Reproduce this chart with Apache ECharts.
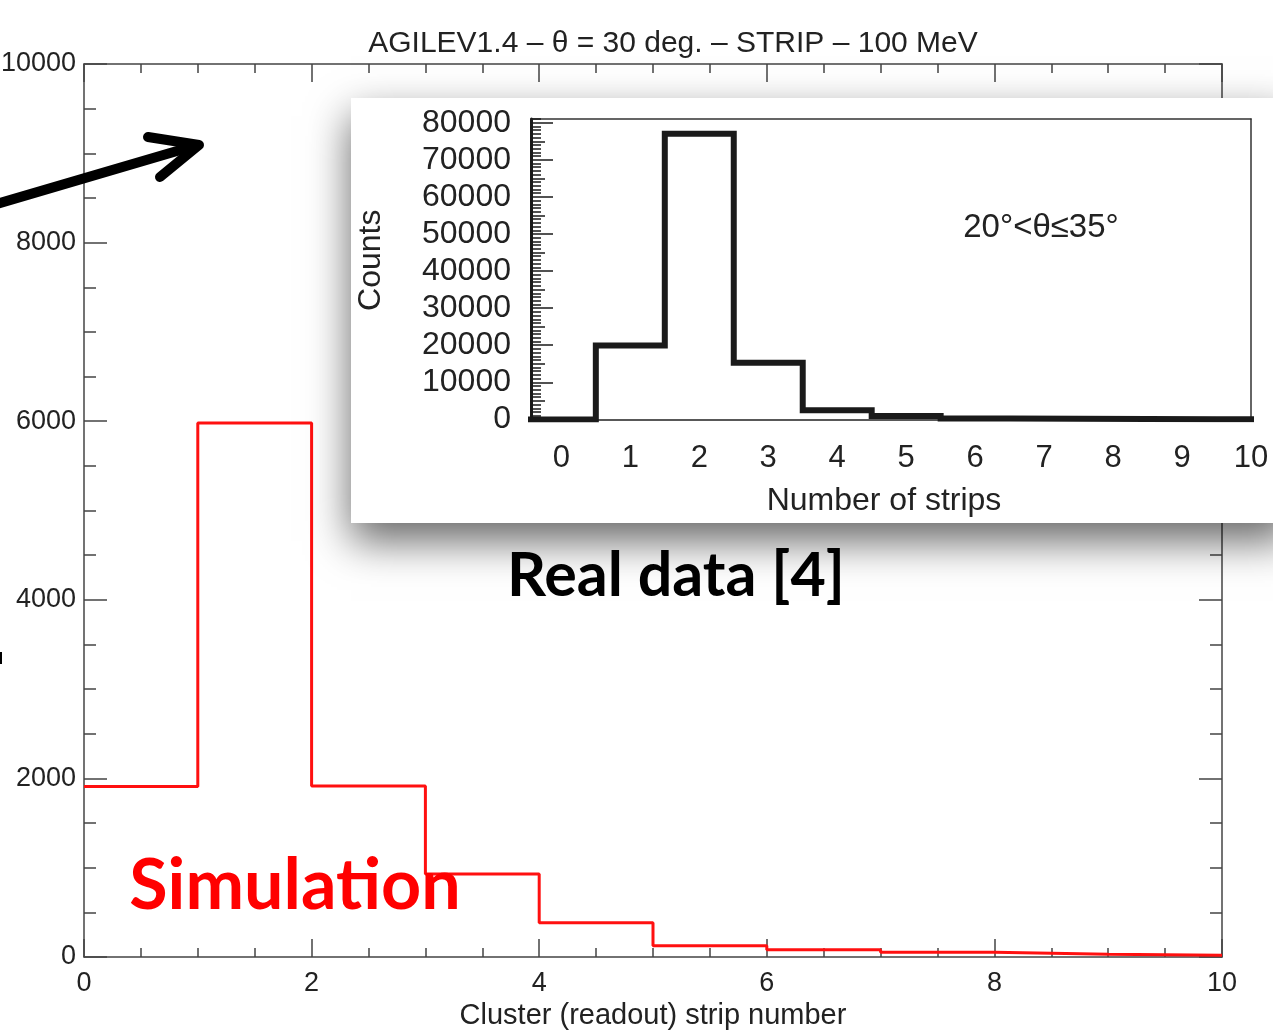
<!DOCTYPE html>
<html><head><meta charset="utf-8">
<script src="https://cdn.jsdelivr.net/npm/echarts@6/dist/echarts.min.js"></script>
<style>html,body{margin:0;padding:0;background:#fff}#c{width:1273px;height:1035px}</style>
</head><body><div id="c"></div>
<script>
// ---- data ----
const titleText = 'AGILEV1.4 \u2013 \u03b8 = 30 deg. \u2013 STRIP \u2013 100 MeV';
const simXName = 'Cluster (readout) strip number';
const simBinLeft = [0, 1, 2, 3, 4, 5, 6, 7, 8, 9];
const simCounts = [1910, 5980, 1915, 929, 384, 127, 82, 52, 30, 19];
const simXTicks = [0, 2, 4, 6, 8, 10];
const simYTicks = [0, 2000, 4000, 6000, 8000, 10000];

const realXName = 'Number of strips';
const realYName = 'Counts';
const realBinCenter = [0, 1, 2, 3, 4, 5, 6, 7, 8, 9, 10];
const realCounts = [0, 19900, 77000, 15300, 2500, 900, 250, 150, 80, 40, 20];
const realXTicks = [0, 1, 2, 3, 4, 5, 6, 7, 8, 9, 10];
const realYTicks = [0, 10000, 20000, 30000, 40000, 50000, 60000, 70000, 80000];
const realYMidTicks = [5000, 15000, 25000, 35000, 45000, 55000, 65000, 75000];
const realLabel = '20\u00b0<\u03b8\u226435\u00b0';
const simAnnot = 'Simulation';
const realAnnot = 'Real data [4]';

// ---- build step data ----
const simData = simBinLeft.map((x, i) => [x, simCounts[i]]);
simData.push([simBinLeft[simBinLeft.length - 1] + 1, simCounts[simCounts.length - 1]]);
const realData = realBinCenter.map((x, i) => [x - 0.5, realCounts[i]]);
realData.push([realBinCenter[realBinCenter.length - 1] + 0.5, realCounts[realCounts.length - 1]]);

const FONT = 'Liberation Sans, Arial, Helvetica, sans-serif';
const AX = '#444';
const TXT = '#222';
const plain = v => String(v);

const chart = echarts.init(document.getElementById('c'), null, {renderer: 'canvas'});
chart.setOption({
  backgroundColor: '#ffffff',
  animation: false,
  textStyle: {fontFamily: FONT},
  title: {
    text: titleText, left: 668, top: 24, textAlign: 'center',
    textStyle: {fontFamily: FONT, fontSize: 30, fontWeight: 'normal', color: TXT}
  },
  grid: [
    {left: 84, top: 64, width: 1138, height: 893, outerBoundsMode: 'none', containLabel: false},
    {left: 531, top: 119, width: 720, height: 300.4, outerBoundsMode: 'none', containLabel: false}
  ],
  xAxis: [
    {gridIndex: 0, type: 'value', min: 0, max: 10, interval: 2, position: 'bottom', z: 1, offset: 0,
     axisLine: {onZero: false, lineStyle: {color: AX, width: 1.5}},
     axisTick: {inside: true, length: 18, lineStyle: {color: AX, width: 1.5}},
     minorTick: {show: true, splitNumber: 4, length: 9, lineStyle: {color: AX, width: 1.5}},
     splitLine: {show: false}, minorSplitLine: {show: false},
     axisLabel: {fontSize: 27, color: TXT, margin: 13, fontFamily: FONT, formatter: plain},
     name: simXName, nameLocation: 'middle', nameGap: 43,
     nameTextStyle: {fontSize: 29, color: TXT, fontFamily: FONT}},
    {gridIndex: 0, type: 'value', min: 0, max: 10, interval: 2, position: 'top', z: 1, offset: 0,
     axisLine: {onZero: false, lineStyle: {color: AX, width: 1.5}},
     axisTick: {inside: true, length: 18, lineStyle: {color: AX, width: 1.5}},
     minorTick: {show: true, splitNumber: 4, length: 9, lineStyle: {color: AX, width: 1.5}},
     splitLine: {show: false}, axisLabel: {show: false}},
    {gridIndex: 1, type: 'value', min: -0.44, max: 10, position: 'bottom', z: 20, offset: 0,
     axisLine: {onZero: false, lineStyle: {color: '#222', width: 1.5}},
     axisTick: {show: false}, splitLine: {show: false},
     axisLabel: {customValues: realXTicks, fontSize: 31, color: TXT, margin: 24, fontFamily: FONT, formatter: plain},
     name: realXName, nameLocation: 'middle', nameGap: 66,
     nameTextStyle: {fontSize: 32, color: TXT, fontFamily: FONT, padding: [0, 14, 0, 0]}},
    {gridIndex: 1, type: 'value', min: -0.44, max: 10, position: 'top', z: 20, offset: 0,
     axisLine: {onZero: false, lineStyle: {color: '#333', width: 1.5}},
     axisTick: {show: false}, splitLine: {show: false}, axisLabel: {show: false}}
  ],
  yAxis: [
    {gridIndex: 0, type: 'value', min: 0, max: 10000, interval: 2000, position: 'left', z: 1, offset: 0,
     axisLine: {onZero: false, lineStyle: {color: AX, width: 1.5}},
     axisTick: {inside: true, length: 23, lineStyle: {color: AX, width: 1.5}},
     minorTick: {show: true, splitNumber: 4, length: 12, lineStyle: {color: AX, width: 1.5}},
     splitLine: {show: false},
     axisLabel: {fontSize: 27, color: TXT, margin: 8, fontFamily: FONT, formatter: plain}},
    {gridIndex: 0, type: 'value', min: 0, max: 10000, interval: 2000, position: 'right', z: 1, offset: 0,
     axisLine: {onZero: false, lineStyle: {color: AX, width: 1.5}},
     axisTick: {inside: true, length: 23, lineStyle: {color: AX, width: 1.5}},
     minorTick: {show: true, splitNumber: 4, length: 12, lineStyle: {color: AX, width: 1.5}},
     splitLine: {show: false}, axisLabel: {show: false}},
    {gridIndex: 1, type: 'value', min: 0, max: 81000, interval: 10000, position: 'left', z: 20, offset: 0,
     axisLine: {onZero: false, lineStyle: {color: '#1a1a1a', width: 3}},
     axisTick: {inside: true, length: 22, customValues: realYTicks, lineStyle: {color: '#1a1a1a', width: 1.5}},
     splitLine: {show: false},
     axisLabel: {customValues: realYTicks, fontSize: 32, color: TXT, margin: 20, fontFamily: FONT, formatter: plain},
     name: realYName, nameLocation: 'middle', nameGap: 144, nameRotate: 90,
     nameTextStyle: {fontSize: 32, color: TXT, fontFamily: FONT, padding: [0, 0, 0, 18]}},
    {gridIndex: 1, type: 'value', min: 0, max: 81000, position: 'right', z: 20, offset: 0,
     axisLine: {onZero: false, lineStyle: {color: '#333', width: 1.5}},
     axisTick: {show: false}, splitLine: {show: false}, axisLabel: {show: false}},
    {gridIndex: 1, type: 'value', min: 0, max: 81000, interval: 1000, position: 'left', z: 20, offset: 0,
     axisLine: {show: false, onZero: false},
     axisTick: {inside: true, length: 10, lineStyle: {color: '#1a1a1a', width: 1.5}},
     splitLine: {show: false}, axisLabel: {show: false}},
    {gridIndex: 1, type: 'value', min: 0, max: 81000, position: 'left', z: 20, offset: 0,
     axisLine: {show: false, onZero: false},
     axisTick: {inside: true, length: 14, customValues: realYMidTicks, lineStyle: {color: '#1a1a1a', width: 1.5}},
     splitLine: {show: false}, axisLabel: {show: false}}
  ],
  series: [
    {type: 'line', name: 'Simulation', xAxisIndex: 0, yAxisIndex: 0, step: 'end', data: simData,
     symbol: 'none', z: 3, lineStyle: {color: '#ff1010', width: 3}},
    {type: 'line', name: 'Real data', xAxisIndex: 2, yAxisIndex: 2, step: 'end', data: realData,
     symbol: 'none', z: 30, lineStyle: {color: '#1a1a1a', width: 6, join: 'miter'}}
  ],
  graphic: {
    elements: [
      {type: 'rect', z: 10, shape: {x: 351, y: 98, width: 940, height: 425},
       style: {fill: '#ffffff', shadowBlur: 40, shadowOffsetY: 18, shadowOffsetX: 0, shadowColor: 'rgba(0,0,0,0.6)'}},
      {type: 'text', z: 40, x: 1041, y: 228,
       style: {text: realLabel, fill: TXT, font: '33px ' + FONT, textAlign: 'center', textVerticalAlign: 'middle'}},
      {type: 'text', z: 40, x: 295, y: 886,
       style: {text: simAnnot, fill: '#ff0000', font: 'bold 70px Lato, Calibri, sans-serif', textAlign: 'center', textVerticalAlign: 'middle'}},
      {type: 'text', z: 40, x: 676, y: 576,
       style: {text: realAnnot, fill: '#000000', font: 'bold 61px Lato, Calibri, sans-serif', textAlign: 'center', textVerticalAlign: 'middle'}},
      {type: 'polyline', z: 40, shape: {points: [[-5, 204.5], [194, 146]]},
       style: {stroke: '#000', lineWidth: 10, lineCap: 'round', fill: null}},
      {type: 'polyline', z: 40, shape: {points: [[148, 137], [199, 145], [160, 177]]},
       style: {stroke: '#000', lineWidth: 10, lineCap: 'round', lineJoin: 'round', fill: null}},
      {type: 'rect', z: 40, shape: {x: 0, y: 652, width: 2, height: 12}, style: {fill: '#000'}}
    ]
  }
});
</script>
</body></html>
